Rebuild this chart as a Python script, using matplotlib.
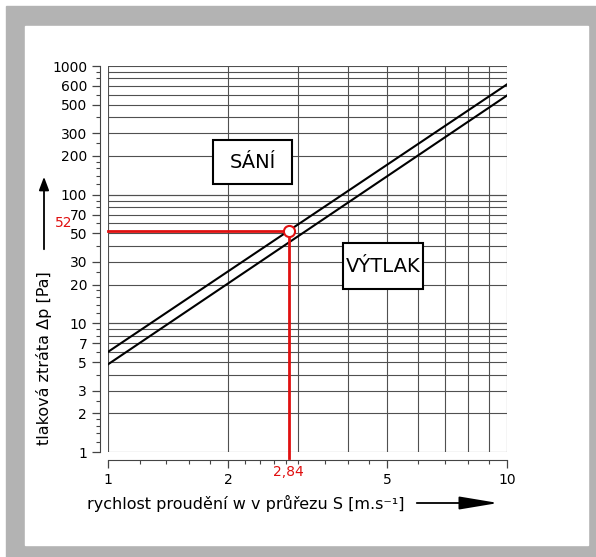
import numpy as np
import matplotlib.pyplot as plt
from matplotlib.patches import Rectangle, FancyArrowPatch
from matplotlib.ticker import FixedLocator, NullFormatter

# data
w = [1, 10]                      # rychlost [m/s]
sani = [6.0, 720.0]              # tlaková ztráta - sání [Pa]
vytlak = [4.8, 590.0]            # tlaková ztráta - výtlak [Pa]
bod_w = 2.84
bod_dp = 52

x_ticks = [1, 2, 5, 10]
x_grid = [1, 2, 3, 4, 5, 6, 7, 8, 9, 10]
x_minor = [1.2, 1.4, 1.6, 1.8, 2.2, 2.4, 2.6, 2.8, 3, 3.5, 4, 4.5, 6, 7, 8, 9]
y_ticks = [1, 2, 3, 5, 7, 10, 20, 30, 50, 70, 100, 200, 300, 500, 700, 1000]
y_labels = ['1', '2', '3', '5', '7', '10', '20', '30', '50', '70', '100', '200', '300', '500', '600', '1000']
y_minor = [m * d for d in [1, 10, 100] for m in [1.2, 1.4, 1.6, 1.8, 2.5, 4, 6, 8, 9]]

fig = plt.figure(figsize=(5.96, 5.57), dpi=100)

# sedy ramecek
fig.patches.append(Rectangle((6/596, 0), 1, 551/557, transform=fig.transFigure,
                             color='#b3b3b3', zorder=-2))
fig.patches.append(Rectangle((25/596, 12/557), 563/596, 519/557, transform=fig.transFigure,
                             color='white', zorder=-1))

ax = fig.add_axes([108/596, 105/557, 399/596, 386/557])
ax.set_zorder(2)
ax.set_xscale('log')
ax.set_yscale('log')
ax.set_xlim(1, 10)
ax.set_ylim(1, 1000)
ax.patch.set_alpha(0)

# mrizka
for gx in x_grid:
    ax.axvline(gx, color='#505050', lw=0.8, zorder=1)
for d in [1, 10, 100]:
    for m in range(1, 11):
        ax.axhline(m * d, color='#505050', lw=0.8, zorder=1)

ax.plot(w, sani, color='black', lw=1.5, zorder=3)
ax.plot(w, vytlak, color='black', lw=1.5, zorder=3)

# odecteni bodu
ax.plot([1, bod_w], [bod_dp, bod_dp], color='#e01010', lw=2, zorder=4, clip_on=False)
ax.plot([bod_w, bod_w], [0.905, bod_dp], color='#e01010', lw=2, zorder=4, clip_on=False)
ax.plot(bod_w, bod_dp, 'o', ms=8, mfc='white', mec='#e01010', mew=1.5, zorder=5)
ax.annotate('52', xy=(1, bod_dp), xytext=(-44, 8), textcoords='offset pixels',
            color='#e01010', fontsize=10, ha='center', va='center', annotation_clip=False)
ax.annotate('2,84', xy=(bod_w, 1), xytext=(0, -20), textcoords='offset pixels',
            color='#e01010', fontsize=10, ha='center', va='center', annotation_clip=False)

# osy
for s in ['top', 'right']:
    ax.spines[s].set_visible(False)
ax.spines['left'].set_position(('outward', 6))
ax.spines['bottom'].set_position(('outward', 6))
ax.spines['left'].set_color('#444444')
ax.spines['bottom'].set_color('#444444')

ax.xaxis.set_major_locator(FixedLocator(x_ticks))
ax.xaxis.set_minor_locator(FixedLocator(x_minor))
ax.set_xticklabels([str(v) for v in x_ticks])
ax.xaxis.set_minor_formatter(NullFormatter())
ax.yaxis.set_major_locator(FixedLocator(y_ticks))
ax.yaxis.set_minor_locator(FixedLocator(y_minor))
ax.set_yticklabels(y_labels)
ax.yaxis.set_minor_formatter(NullFormatter())
ax.tick_params(which='major', length=6, width=0.9, color='#444444', labelsize=10, pad=3)
ax.tick_params(which='minor', length=3, width=0.8, color='#444444')

# popisky v rameckach
ax.add_patch(Rectangle((0.263, 0.694), 0.198, 0.114, transform=ax.transAxes,
                       fc='white', ec='black', lw=1.5, zorder=6))
ax.text(0.362, 0.751, 'SÁNÍ', transform=ax.transAxes, fontsize=14,
        ha='center', va='center', zorder=7)
ax.add_patch(Rectangle((0.589, 0.422), 0.200, 0.119, transform=ax.transAxes,
                       fc='white', ec='black', lw=1.5, zorder=6))
ax.text(0.689, 0.481, 'VÝTLAK', transform=ax.transAxes, fontsize=14,
        ha='center', va='center', zorder=7)

# popisky os se sipkami
fig.text(44/596, 1 - 358/557, 'tlaková ztráta Δp [Pa]', rotation=90,
         ha='center', va='center', fontsize=11.5)
fig.text(87/596, 1 - 503/557, 'rychlost proudění w v průřezu S [m.s⁻¹]',
         ha='left', va='center', fontsize=11.5)
fig.add_artist(FancyArrowPatch(
    (44/596, 1 - 252/557), (44/596, 1 - 174/557), transform=fig.transFigure,
    arrowstyle='-|>,head_length=8,head_width=3', mutation_scale=1, color='black', lw=1.3))
fig.add_artist(FancyArrowPatch(
    (414/596, 1 - 503/557), (501/596, 1 - 503/557), transform=fig.transFigure,
    arrowstyle='-|>,head_length=24,head_width=4', mutation_scale=1, color='black', lw=1.3))

fig.savefig('out.png', dpi=100)
